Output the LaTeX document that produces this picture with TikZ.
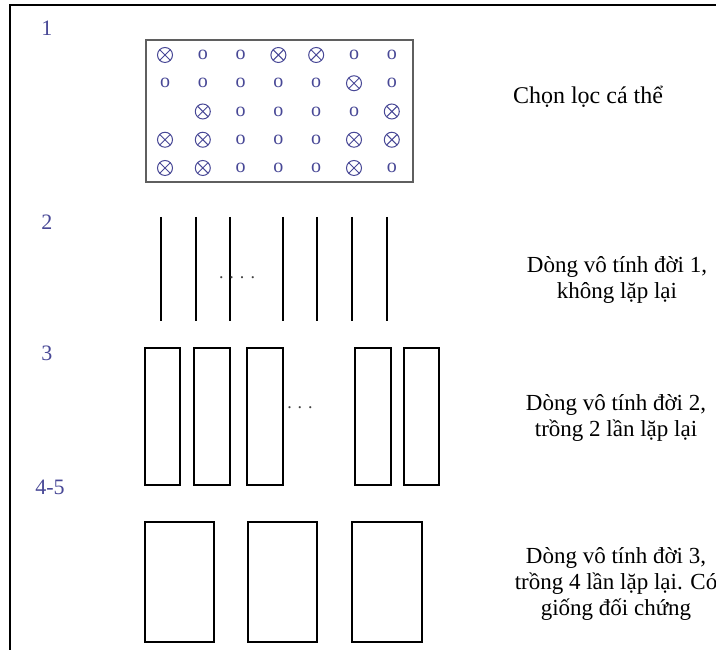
\documentclass[tikz,border=0pt]{standalone}
\usepackage{fontspec}
\setmainfont{Liberation Serif}
\usepackage{tikz}
\usetikzlibrary{positioning}

\definecolor{markc}{RGB}{72,72,150}
\definecolor{framec}{RGB}{95,95,95}

\begin{document}
\begin{tikzpicture}[
  x=1pt, y=1pt,
  stage/.style={font=\fontsize{22}{22}\selectfont, text=markc, inner sep=0pt, anchor=base},
  note/.style={font=\fontsize{23}{26}\selectfont, align=center, inner sep=0pt, anchor=base},
  gapdots/.style={font=\fontsize{18}{18}\selectfont, text=black!75, inner sep=0pt},
  clone/.style={draw, line width=1.3pt, inner sep=0pt},
  cello/.style={font=\fontsize{20}{20}\selectfont, text=markc, inner sep=0pt, node contents={o}},
  cellx/.style={circle, draw=markc, line width=1pt, minimum size=15pt, inner sep=0pt,
    node contents={},
    path picture={\draw[markc, line width=1pt]
      (path picture bounding box.north west) -- (path picture bounding box.south east)
      (path picture bounding box.north east) -- (path picture bounding box.south west);}},
  celln/.style={inner sep=0pt, node contents={}}
]
\useasboundingbox (0,0) rectangle (716,650);

% page edges
\draw[line width=1.2pt] (716,645) -- (10,645) -- (10,0);

% Stage 1: selection in the field
\node[stage] (lab1) at (47,614) {1};
\node[draw=framec, line width=1.1pt, minimum width=267, minimum height=142, inner sep=0pt] (field) at (279.5,539) {};
\foreach \row [count=\r] in {{x,o,o,x,x,o,o},{o,o,o,o,o,x,o},{n,x,o,o,o,o,x},{x,x,o,o,o,x,x},{x,x,o,o,o,x,o}}{
  \foreach \c [count=\k] in \row{
    \node (g\r\k) at ({165+37.8*(\k-1)},{595-28.25*(\r-1)}) [cell\c];
  }
}
\node[note, font=\fontsize{24}{26}\selectfont] (txt1) at (588,546) {Chọn lọc cá thể};

% Stage 2: single rows, no replication
\node[stage] (lab2) at (47,420) {2};
\foreach \x in {161,196,230,283,317,352,387}{
  \draw[line width=1.3pt] (\x,433) -- (\x,329);
}
\node[gapdots] (gap2) at (237,372) {. . . .};
\node[note] (txt2) at (617,351) {Dòng vô tính đời 1,\\ không lặp lại};

% Stage 3: two replications
\node[stage] (lab3) at (47,289) {3};
\foreach \a/\b [count=\i] in {145/180,194/230,247/283,355/391,404/439}{
  \node[clone, minimum width=\b-\a, minimum height=137] (p\i) at ({(\a+\b)/2},233.5) {};
}
\node[gapdots] (gap3) at (300,242) {. . .};
\node[note] (txt3) at (616,213) {Dòng vô tính đời 2,\\ trồng 2 lần lặp lại};

% Stage 4-5: four replications with check variety
\node[stage] (lab45) at (50,155) {4-5};
\foreach \a/\b [count=\i] in {145/214,248/317,352/422}{
  \node[clone, minimum width=\b-\a, minimum height=120] (q\i) at ({(\a+\b)/2},68) {};
}
\node[note] (txt45) at (616,34) {Dòng vô tính đời 3,\\ trồng 4 lần lặp lại. Có\\ giống đối chứng};
\end{tikzpicture}
\end{document}
